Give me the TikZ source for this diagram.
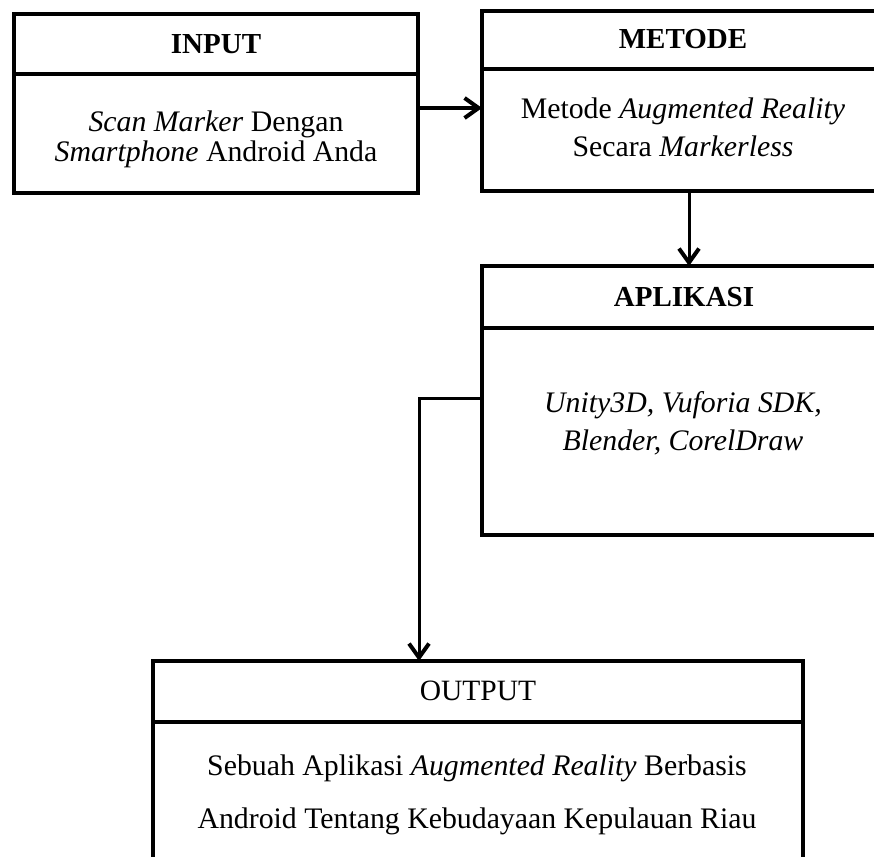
\documentclass[tikz,border=0pt]{standalone}
\usepackage{fontspec}
\setmainfont{Liberation Serif}
\usetikzlibrary{arrows.meta}

\tikzset{
  box/.style={draw=black, line width=4pt, outer sep=0pt, inner sep=0pt},
  divider/.style={line width=4pt},
  hdr/.style={inner sep=0pt, font=\fontsize{29}{34}\selectfont\bfseries},
  hdrplain/.style={inner sep=0pt, font=\fontsize{29.5}{34}\selectfont},
  body/.style={inner sep=0pt, align=center},
  arr/.style={line width=3pt, -{Straight Barb[length=14pt, width=20pt, line width=4pt]}},
}

\begin{document}
\begin{tikzpicture}[x=1pt, y=-1pt]
  \useasboundingbox (0,0) rectangle (874,856);
  \clip (0,0) rectangle (874,856);
  \fill[white] (0,0) rectangle (874,856);

  % boxes
  \node[box, minimum width=404pt, minimum height=179pt] (inp) at (216,103.5) {};
  \node[box, minimum width=414pt, minimum height=179pt] (met) at (689,101) {};
  \node[box, minimum width=414pt, minimum height=269pt] (apl) at (689,400.5) {};
  \node[box, minimum width=650pt, minimum height=240pt] (out) at (478,781) {};

  % header dividers
  \draw[divider] ([yshift=-60pt]inp.north west) -- ([yshift=-60pt]inp.north east);
  \draw[divider] ([yshift=-58pt]met.north west) -- ([yshift=-58pt]met.north east);
  \draw[divider] ([yshift=-62pt]apl.north west) -- ([yshift=-62pt]apl.north east);
  \draw[divider] ([yshift=-61pt]out.north west) -- ([yshift=-61pt]out.north east);

  % headers
  \node[hdr] (inpH) at (216,44) {INPUT};
  \node[hdr] (metH) at (683,39) {METODE};
  \node[hdr] (aplH) at (684,297) {APLIKASI};
  \node[hdrplain] (outH) at (478,691) {OUTPUT};

  % contents
  \node[body, font=\fontsize{29.8}{30}\selectfont] (inpB) at (216,139)
    {\textit{Scan Marker} Dengan\\\textit{Smartphone} Android Anda};
  \node[body, font=\fontsize{29.8}{38}\selectfont] (metB) at (683,127)
    {Metode \textit{Augmented Reality}\\Secara \textit{Markerless}};
  \node[body, font=\fontsize{29.8}{38}\selectfont\itshape] (aplB) at (683,423)
    {Unity3D, Vuforia SDK,\\Blender, CorelDraw};
  \node[body, font=\fontsize{29.8}{53}\selectfont] (outB) at (477,795)
    {Sebuah Aplikasi \textit{Augmented Reality} Berbasis\\Android Tentang Kebudayaan Kepulauan Riau};

  % connectors
  \coordinate (bend) at (419,398);
  \draw[arr] ([yshift=-4.5pt]inp.east) -- ([yshift=-4.5pt]inp.east -| met.west);
  \draw[arr] (met.south) -- (apl.north);
  \draw[arr] (apl.west |- bend) -- (bend) -- (bend |- out.north);
\end{tikzpicture}
\end{document}
